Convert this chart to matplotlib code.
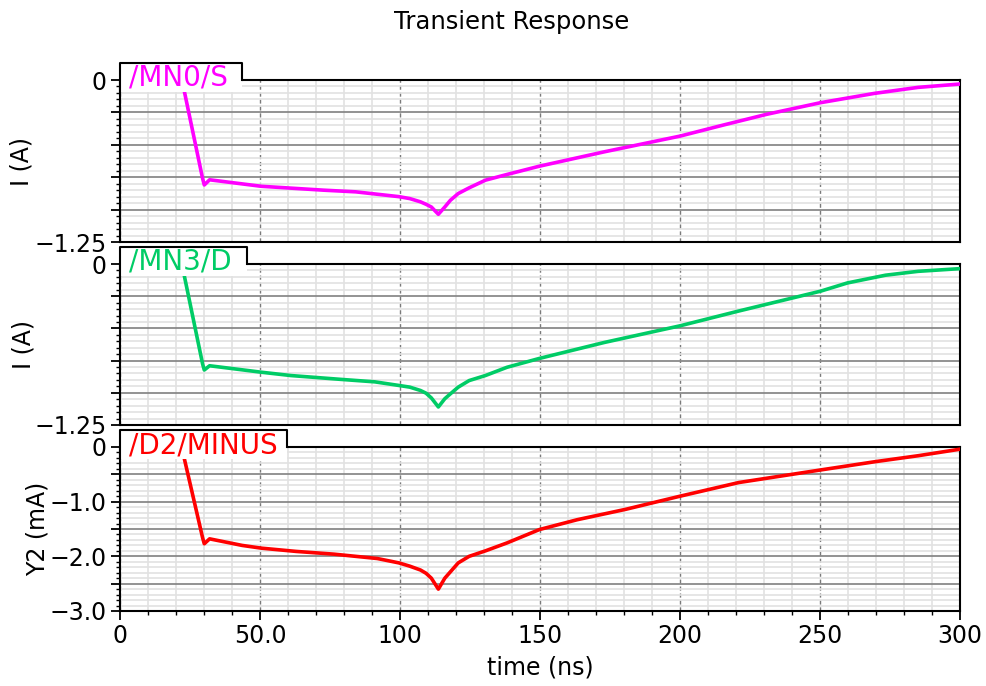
import numpy as np
import matplotlib
matplotlib.use('Agg')
import matplotlib.pyplot as plt
from matplotlib.patches import Rectangle
from matplotlib.lines import Line2D
from matplotlib.ticker import MultipleLocator

# values (time in ns)
t_mn0 = [22.2, 23.0, 29.5, 30.1, 32.0, 50.4, 72.6, 84.2, 99.6, 103.5, 107.3, 109.3, 111.2, 113.7, 116.0,
         118.0, 120.8, 124.7, 130.5, 138.2, 149.8, 173.0, 200.0, 215.4, 230.9, 250.2, 269.5, 285.0, 300.0]
i_mn0 = [0.0, -0.09, -0.76, -0.81, -0.77, -0.82, -0.85, -0.863, -0.90, -0.915, -0.94, -0.959, -0.98, -1.036, -0.98,
         -0.928, -0.876, -0.832, -0.773, -0.729, -0.665, -0.554, -0.433, -0.348, -0.265, -0.175, -0.103, -0.057, -0.031]

t_mn3 = [22.2, 23.0, 29.5, 30.1, 32.0, 50.4, 61.0, 78.4, 91.0, 99.6, 103.5, 107.3, 109.3, 111.2, 113.7, 116.0,
         118.0, 120.8, 124.7, 130.5, 138.2, 149.8, 173.0, 200.0, 221.0, 250.2, 259.8, 273.4, 285.0, 300.0]
i_mn3 = [0.0, -0.095, -0.776, -0.823, -0.79, -0.84, -0.866, -0.895, -0.915, -0.943, -0.956, -0.982, -1.003, -1.04, -1.11, -1.046,
         -1.008, -0.956, -0.905, -0.866, -0.802, -0.733, -0.609, -0.48, -0.365, -0.211, -0.147, -0.087, -0.057, -0.036]

t_d2 = [22.0, 23.0, 29.5, 30.1, 32.0, 43.6, 50.4, 62.9, 76.4, 91.9, 99.6, 103.5, 107.3, 109.3, 111.2, 113.7,
        116.0, 120.8, 124.7, 130.5, 138.2, 149.8, 163.3, 180.6, 200.0, 221.0, 250.2, 269.5, 285.0, 300.0]
i_d2 = [0.0, -0.22, -1.66, -1.77, -1.68, -1.80, -1.85, -1.91, -1.96, -2.04, -2.12, -2.18, -2.25, -2.31, -2.40, -2.60,
        -2.40, -2.12, -2.00, -1.90, -1.755, -1.51, -1.33, -1.14, -0.90, -0.65, -0.42, -0.27, -0.16, -0.04]

x_ticks = [0, 50, 100, 150, 200, 250, 300]
x_labels = ['0', '50.0', '100', '150', '200', '250', '300']
yticks_a = [0, -0.25, -0.5, -0.75, -1.0, -1.25]
ylabels_a = ['0', '', '', '', '', '\u22121.25']
yticks_ma = [0, -0.5, -1.0, -1.5, -2.0, -2.5, -3.0]
ylabels_ma = ['0', '', '\u22121.0', '', '\u22122.0', '', '\u22123.0']

W, H = 987, 686
fig = plt.figure(figsize=(W / 100, H / 100), dpi=100)

# (top px, bottom px, tab right px, signal, color, ylabel, ylabel x px)
panels = [
    (80, 242, 242, '/MN0/S', '#ff00ff', 'I (A)', 22),
    (264, 425, 247, '/MN3/D', '#00cc66', 'I (A)', 23),
    (447, 611, 287, '/D2/MINUS', '#ff0000', 'Y2 (mA)', 38),
]
series = [(t_mn0, i_mn0), (t_mn3, i_mn3), (t_d2, i_d2)]

for n, ((top, bot, tab_r, name, col, ylab, ylx), (t, y)) in enumerate(zip(panels, series)):
    hpx = bot - top
    ax = fig.add_axes([120 / W, 1 - bot / H, 840 / W, hpx / H])
    ax.plot(t, y, color=col, lw=2.6, zorder=3)

    ax.set_xlim(0, 300)
    ax.xaxis.set_minor_locator(MultipleLocator(10))
    if n < 2:
        ax.set_ylim(-1.25, 0)
        ax.set_yticks(yticks_a, ylabels_a)
        ax.yaxis.set_minor_locator(MultipleLocator(0.05))
        ax.set_xticks(x_ticks)
        ax.tick_params(axis='x', which='both', bottom=False, labelbottom=False)
    else:
        ax.set_ylim(-3.0, 0)
        ax.set_yticks(yticks_ma, ylabels_ma)
        ax.yaxis.set_minor_locator(MultipleLocator(0.1))
        ax.set_xticks(x_ticks, x_labels)

    ax.set_axisbelow(True)
    ax.grid(which='minor', color='#e2e2e2', lw=1.2)
    ax.yaxis.grid(True, which='major', color='#8a8a8a', lw=1.3, ls='-')
    ax.xaxis.grid(True, which='major', color='#7a7a7a', lw=1.0, ls=(0, (3, 2)))

    ax.tick_params(which='major', length=6.5, width=1.3, labelsize=17, pad=3, colors='black')
    ax.tick_params(which='minor', length=3, width=1.0)
    for s in ax.spines.values():
        s.set_linewidth(1.5)
        s.set_color('black')

    # label tab at top-left of each strip
    wr = (tab_r - 120) / 840
    tab_top = 1 + 17 / hpx
    tab_bot = 1 - 12 / hpx
    ax.add_patch(Rectangle((0, tab_bot), wr, tab_top - tab_bot, transform=ax.transAxes,
                           facecolor='white', edgecolor='none', zorder=5, clip_on=False))
    ax.add_line(Line2D([0, 0, wr, wr], [tab_bot, tab_top, tab_top, 1.0], transform=ax.transAxes,
                       color='black', lw=1.5, zorder=6, clip_on=False))
    ax.text(9 / 840, 1 - 6 / hpx, name, transform=ax.transAxes, color=col, fontsize=20,
            ha='left', va='baseline', zorder=7)

    fig.text(ylx / W, 1 - (top + bot) / 2 / H, ylab, rotation=90, ha='center', va='center',
             fontsize=17)

fig.text(512 / W, 1 - 22 / H, 'Transient Response', ha='center', va='center', fontsize=17.5)
fig.text(540 / W, 1 - 668 / H, 'time (ns)', ha='center', va='center', fontsize=17)

fig.savefig('out.png', dpi=100, facecolor='white')
